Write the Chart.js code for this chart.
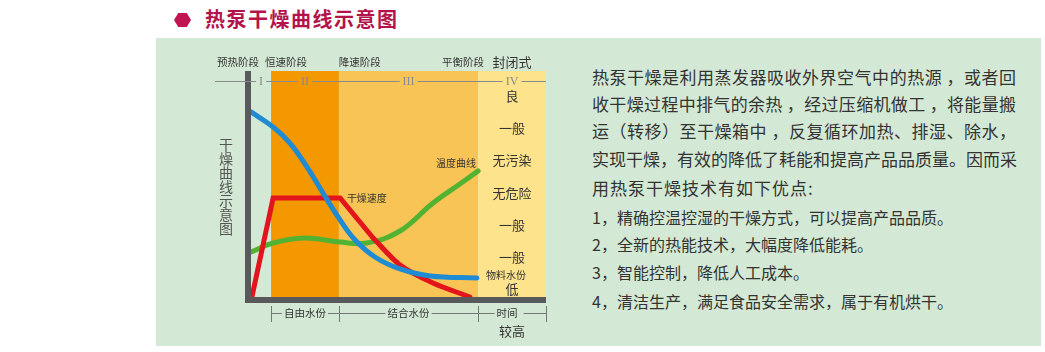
<!DOCTYPE html>
<html>
<head>
<meta charset="utf-8">
<script src="https://cdn.jsdelivr.net/npm/chart.js@4.4.1/dist/chart.umd.min.js"></script>
<style>
body { margin: 0; width: 1045px; height: 352px; background: #fff; position: relative; overflow: hidden; font-family: "Noto Sans CJK SC", sans-serif; }
#panel { position: absolute; left: 156px; top: 38px; width: 885px; height: 308px; background: #d4e9d5; }
#hex { position: absolute; left: 174px; top: 13px; width: 17px; height: 14px; background: #c01550; clip-path: polygon(25% 0, 75% 0, 100% 50%, 75% 100%, 25% 100%, 0 50%); }
#title { position: absolute; left: 205px; top: 5px; font-size: 20px; font-weight: bold; color: #b3134a; letter-spacing: 1.5px; line-height: 28px; }
#wrap { position: absolute; left: 200px; top: 40px; width: 360px; height: 310px; }
.ln { position: absolute; left: 592px; color: #333; white-space: nowrap; line-height: 24px; }
.para { font-size: 17px; width: 424px; text-align: justify; text-align-last: justify; }
.item { font-size: 16px; }
</style>
</head>
<body>
<div id="panel"></div>
<div id="hex"></div>
<div id="title">热泵干燥曲线示意图</div>
<div id="wrap"><canvas id="chart"></canvas></div>
<div id="text"></div>

<script>
// time axis runs 0..100 across the plot, value axis 0..100 bottom to top
const zoneEdges = [0, 6.8, 29.8, 77, 100];
const zoneNumerals = ['I', 'II', 'III', 'IV'];
const phaseNames = ['预热阶段', '恒速阶段', '降速阶段', '平衡阶段'];
const waterNames = ['自由水份', '结合水份', '时间'];
const propertyHead = '封闭式';
const propertyNames = ['良', '一般', '无污染', '无危险', '一般', '一般', '低'];
const propertyFoot = '较高';
const yTitle = '干燥曲线示意图';

const moistureX = [0, 7.5, 13.2, 19.0, 24.4, 30.2, 35.3, 42.0, 50.5, 60.7, 76.6];
const moistureY = [81.9, 75.2, 68.1, 57.5, 46.0, 34.1, 25.2, 17.7, 12.4, 9.3, 8.4];

const speedRiseX = [0.3, 7.5, 30.2, 41.4];
const speedRiseY = [0, 43.8, 43.8, 26.1];
const speedFallX = [41.4, 50.5, 61.7, 74.2];
const speedFallY = [26.1, 14.2, 6.2, 0];

const tempX = [0, 7.5, 18.3, 30.2, 39.3, 50.5, 61.7, 70.8, 77.0];
const tempY = [19.9, 23.9, 26.1, 24.3, 23.9, 29.2, 41.6, 50.0, 55.8];

const paragraph = [
    '热泵干燥是利用蒸发器吸收外界空气中的热源 ，或者回',
    '收干燥过程中排气的余热 ，经过压缩机做工 ，将能量搬',
    '运（转移）至干燥箱中 ，反复循环加热、排湿、除水，',
    '实现干燥，有效的降低了耗能和提高产品品质量。因而采'
];
const lead = '用热泵干燥技术有如下优点:';
const advantages = [
    '1，精确控温控湿的干燥方式，可以提高产品品质。',
    '2，全新的热能技术，大幅度降低能耗。',
    '3，智能控制，降低人工成本。',
    '4，清洁生产，满足食品安全需求，属于有机烘干。'
];

const zoneColors = [null, '#f39800', '#f8c455', '#fde38c'];
const FONT = '"Noto Sans CJK SC", sans-serif';

// right-hand text
const textEl = document.getElementById('text');
const lineTops = [65, 92, 119, 147, 176, 205, 232, 260, 289];
[...paragraph, lead, ...advantages].forEach((t, i) => {
    const d = document.createElement('div');
    d.className = 'ln ' + (i < 4 ? 'para' : 'item');
    if (i === 4) { d.style.fontSize = '17px'; d.style.letterSpacing = '1px'; }
    d.style.top = lineTops[i] + 'px';
    d.textContent = t;
    textEl.appendChild(d);
});

const pts = (xs, ys) => xs.map((x, i) => ({ x: x, y: ys[i] }));

const diagramPlugin = {
    id: 'diagram',
    beforeDatasetsDraw(chart) {
        const { ctx, chartArea: a, scales: { x } } = chart;
        ctx.save();
        zoneColors.forEach((c, i) => {
            if (!c) return;
            const l = x.getPixelForValue(zoneEdges[i]);
            const r = x.getPixelForValue(zoneEdges[i + 1]);
            ctx.fillStyle = c;
            ctx.fillRect(l, a.top, r - l, a.bottom - a.top);
        });
        ctx.restore();
    },
    afterDatasetsDraw(chart) {
        const { ctx, chartArea: a, scales: { x, y } } = chart;
        const mid = i => (x.getPixelForValue(zoneEdges[i]) + x.getPixelForValue(zoneEdges[i + 1])) / 2;
        ctx.save();

        // axis bars
        ctx.fillStyle = '#58595b';
        ctx.fillRect(a.left - 6, a.top, 6, a.bottom - a.top + 6);
        ctx.fillRect(a.left - 6, a.bottom, a.right - a.left + 6, 6);

        // roman numeral rule
        const ruleY = a.top + 10;
        ctx.font = '12px "Liberation Serif", serif';
        ctx.textAlign = 'center';
        ctx.textBaseline = 'middle';
        let from = 15;
        ctx.strokeStyle = '#8a8a8a';
        ctx.lineWidth = 1;
        zoneNumerals.forEach((n, i) => {
            const cx = mid(i);
            const w = ctx.measureText(n).width;
            ctx.beginPath();
            ctx.moveTo(from, ruleY + 0.5);
            ctx.lineTo(cx - w / 2 - 3, ruleY + 0.5);
            ctx.stroke();
            ctx.fillStyle = '#8a8a8a';
            ctx.fillText(n, cx, ruleY + 1);
            from = cx + w / 2 + 3;
        });
        ctx.beginPath();
        ctx.moveTo(from, ruleY + 0.5);
        ctx.lineTo(a.right, ruleY + 0.5);
        ctx.stroke();

        // phase names above
        ctx.fillStyle = '#333';
        ctx.font = '10.5px ' + FONT;
        const phaseX = [a.left - 13, x.getPixelForValue(11.9), x.getPixelForValue(36.9), x.getPixelForValue(71.9)];
        phaseNames.forEach((p, i) => ctx.fillText(p, phaseX[i], a.top - 9));
        ctx.font = '13px ' + FONT;
        ctx.fillText(propertyHead, mid(3), a.top - 9);

        // property column in zone IV
        propertyNames.forEach((p, i) => ctx.fillText(p, mid(3), a.top + 25 + i * 32.2));
        ctx.fillText(propertyFoot, mid(3), a.bottom + 34);

        // curve labels
        ctx.font = '10px ' + FONT;
        ctx.textAlign = 'left';
        ctx.fillText('干燥速度', x.getPixelForValue(32.5), y.getPixelForValue(43.8));
        ctx.fillText('物料水份', x.getPixelForValue(79.7), y.getPixelForValue(9.5));
        ctx.textAlign = 'center';
        ctx.fillText('温度曲线', x.getPixelForValue(69.5), y.getPixelForValue(59.3));

        // water bracket below
        const tickTop = a.bottom + 9, tickBot = a.bottom + 25, lineY = a.bottom + 16.5;
        ctx.strokeStyle = '#777';
        for (let i = 1; i < zoneEdges.length; i++) {
            const px = Math.round(x.getPixelForValue(zoneEdges[i])) + 0.5;
            ctx.beginPath();
            ctx.moveTo(px, tickTop);
            ctx.lineTo(px, tickBot);
            ctx.stroke();
        }
        ctx.font = '10.5px ' + FONT;
        waterNames.forEach((n, k) => {
            const i = k + 1;
            const l = x.getPixelForValue(zoneEdges[i]), r = x.getPixelForValue(zoneEdges[i + 1]);
            const cx = k === 2 ? mid(i) - 5 : mid(i);
            const w = ctx.measureText(n).width;
            ctx.beginPath();
            ctx.moveTo(l, lineY);
            ctx.lineTo(cx - w / 2 - 2, lineY);
            ctx.moveTo(cx + w / 2 + (k === 2 ? 6 : 2), lineY);
            ctx.lineTo(r, lineY);
            ctx.stroke();
            ctx.fillStyle = '#333';
            ctx.fillText(n, cx, lineY);
        });

        // vertical y title
        ctx.fillStyle = '#555';
        ctx.font = '14px ' + FONT;
        [...yTitle].forEach((c, i) => ctx.fillText(c, a.left - 25, a.top + 74 + i * 14));

        ctx.restore();
    }
};

const line = (data, color, order, extra) => Object.assign({
    data: data,
    borderColor: color,
    borderWidth: 5,
    pointRadius: 0,
    fill: false,
    order: order,
    tension: 0.4,
    borderCapStyle: 'round'
}, extra || {});

new Chart(document.getElementById('chart'), {
    type: 'line',
    data: {
        datasets: [
            line(pts(moistureX, moistureY), '#1e8bd3', 0),
            line(pts(speedRiseX, speedRiseY), '#e3141c', 1, { tension: 0, borderCapStyle: 'butt', borderJoinStyle: 'miter' }),
            line(pts(speedFallX, speedFallY), '#e3141c', 1, { tension: 0.3 }),
            line(pts(tempX, tempY), '#52b232', 2)
        ]
    },
    options: {
        responsive: true,
        maintainAspectRatio: false,
        animation: false,
        layout: { padding: { left: 51, right: 14, top: 31, bottom: 53 } },
        plugins: { legend: { display: false }, tooltip: { enabled: false } },
        scales: {
            x: { type: 'linear', min: 0, max: 100, display: false },
            y: { type: 'linear', min: 0, max: 100, display: false }
        }
    },
    plugins: [diagramPlugin]
});
</script>
</body>
</html>
